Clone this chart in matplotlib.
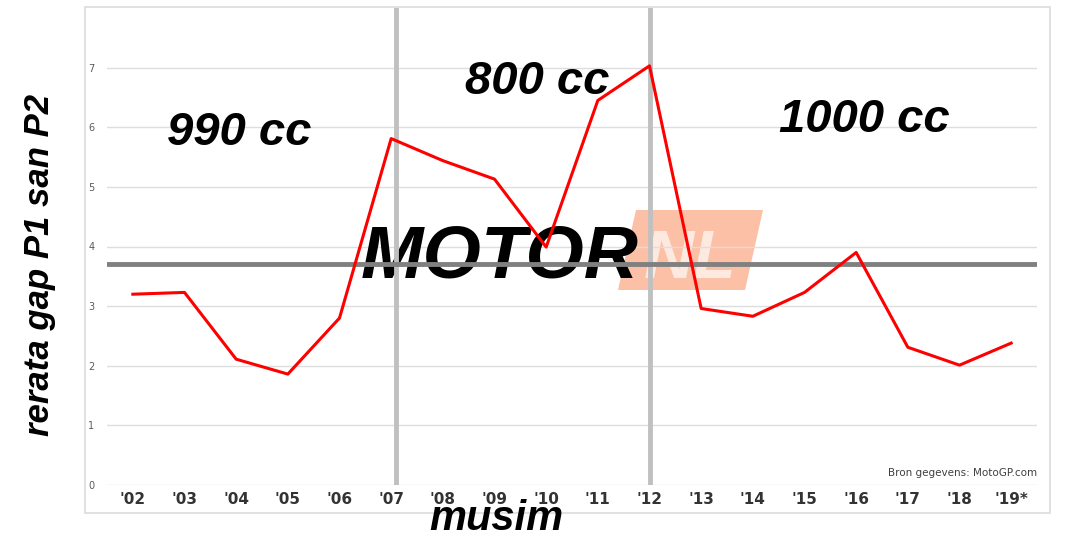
import numpy as np
import matplotlib
matplotlib.use('Agg')
import matplotlib.pyplot as plt
from matplotlib.patches import Rectangle, Polygon

# Season labels and average gap between P1 and P2 (seconds)
seasons = ["'02", "'03", "'04", "'05", "'06", "'07", "'08", "'09", "'10",
           "'11", "'12", "'13", "'14", "'15", "'16", "'17", "'18", "'19*"]
gap = [3.20, 3.23, 2.11, 1.86, 2.80, 5.81, 5.44, 5.13, 3.99,
       6.45, 7.03, 2.96, 2.83, 3.23, 3.90, 2.31, 2.01, 2.38]
yticks = [0, 1, 2, 3, 4, 5, 6, 7]
era_labels = ['990 cc', '800 cc', '1000 cc']
era_change = ["'07", "'12"]

W, H = 1077, 539


def fx(px):
    return px / W


def fy(py):
    return 1 - py / H


fig = plt.figure(figsize=(W / 100, H / 100), dpi=100)
fig.patch.set_facecolor('white')

# light frame around the chart
fig.patches.append(Rectangle((fx(85), fy(513)), fx(1050) - fx(85), fy(7) - fy(513),
                             transform=fig.transFigure, fill=False,
                             edgecolor='#dcdcdc', linewidth=1.2))

ax = fig.add_axes([fx(107), fy(485), fx(1037) - fx(107), fy(8) - fy(485)])
x = np.arange(len(seasons))

ax.plot(x, gap, color='#ff0000', linewidth=2.2, zorder=4)
ax.axhline(np.mean(gap), color='#808080', linewidth=3.5, zorder=3)
offsets = [0.1, 0.0]
for lab, off in zip(era_change, offsets):
    ax.axvline(seasons.index(lab) + off, color='#c0c0c0', linewidth=3.5, zorder=2.5)

ax.set_xlim(-0.5, len(seasons) - 0.5)
ax.set_ylim(0, 8.0)
ax.set_yticks(yticks)
ax.set_yticklabels([str(v) for v in yticks], fontsize=7, color='#595959')
ax.set_xticks(x)
ax.set_xticklabels(seasons, fontsize=11, fontweight='bold', color='#333333')
ax.tick_params(axis='both', length=0)
ax.tick_params(axis='y', pad=9)
ax.tick_params(axis='x', pad=5)
ax.grid(axis='y', color='#dedede', linewidth=1)
ax.set_axisbelow(True)
for s in ax.spines.values():
    s.set_visible(False)

# watermark
ax.add_patch(Polygon([(fx(636), fy(210)), (fx(763), fy(210)),
                      (fx(745), fy(290)), (fx(618), fy(290))],
                     closed=True, transform=fig.transFigure,
                     facecolor='#fbc0a6', edgecolor='none', zorder=0.2))
ax.text(fx(690), fy(278), 'NL', transform=fig.transFigure, ha='center',
        va='baseline', fontsize=50, fontweight='bold', style='italic',
        family='Liberation Sans', color='#fde9df', zorder=0.3)
ax.text(fx(500), fy(278), 'MOTOR', transform=fig.transFigure, ha='center',
        va='baseline', fontsize=54, fontweight='bold', style='italic',
        family='Liberation Sans', color='black', zorder=2)

# era annotations
era_pos = [(239, 133), (537, 82), (864, 120)]
for lab, (px, py) in zip(era_labels, era_pos):
    fig.text(fx(px), fy(py), lab, ha='center', va='center', fontsize=34,
             fontweight='bold', style='italic', family='Liberation Sans',
             color='black')

fig.text(fx(1037), fy(473), 'Bron gegevens: MotoGP.com', ha='right',
         va='center', fontsize=7.5, color='#404040')

fig.text(fx(40), fy(265), 'rerata gap P1 san P2', rotation=90, ha='center',
         va='center', fontsize=25, fontweight='bold', style='italic',
         family='Liberation Sans', color='black')
fig.text(fx(496), fy(530), 'musim', ha='center', va='baseline', fontsize=30,
         fontweight='bold', style='italic', family='Liberation Sans',
         color='black')

fig.savefig('out.png', dpi=100)
